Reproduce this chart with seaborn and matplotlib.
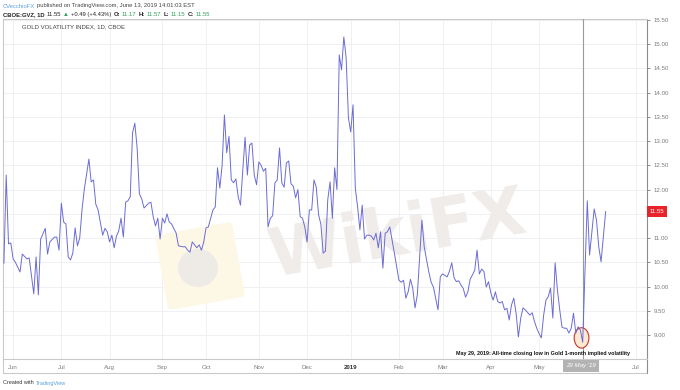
import numpy as np
import pandas as pd
import seaborn as sns
import matplotlib.pyplot as plt
from matplotlib.patches import Ellipse, FancyBboxPatch
from matplotlib.transforms import blended_transform_factory, Affine2D

# trading-session index (0 = late May 2018) and GVZ daily close
session = [0, 1, 2, 3, 4, 5, 7, 8, 10, 11, 13, 14, 15, 16, 18, 19, 20, 22, 23, 24,
           25, 26, 27, 28, 29, 30, 31, 32, 33, 34, 35, 37, 38, 39, 40, 41, 43, 44, 45, 46,
           47, 48, 49, 50, 51, 52, 53, 54, 55, 56, 57, 58, 59, 60, 61, 63, 64, 65, 66, 67,
           68, 69, 70, 71, 72, 73, 75, 76, 78, 79, 80, 81, 82, 84, 85, 86, 87, 88, 89, 91,
           92, 93, 94, 95, 96, 97, 98, 99, 100, 101, 102, 103, 104, 105, 106, 107, 108, 109, 110, 111,
           112, 113, 114, 115, 116, 117, 118, 119, 120, 121, 122, 123, 124, 125, 126, 127, 128, 129, 130, 131,
           132, 133, 134, 135, 136, 137, 138, 139, 140, 141, 142, 143, 144, 145, 146, 147, 148, 149, 150, 151,
           152, 153, 154, 155, 156, 157, 158, 159, 160, 161, 162, 163, 164, 165, 166, 167, 168, 169, 170, 172,
           173, 174, 175, 176, 177, 178, 179, 180, 181, 182, 183, 185, 186, 187, 188, 189, 190, 191, 193, 194,
           195, 196, 197, 198, 199, 200, 201, 202, 203, 204, 205, 206, 207, 208, 209, 210, 211, 212, 213, 214,
           215, 216, 217, 218, 219, 220, 221, 222, 223, 224, 225, 226, 227, 229, 230, 231, 232, 233, 234, 235,
           236, 237, 238, 239, 240, 241, 242, 243, 244, 245, 246, 247, 248, 249, 250, 251, 252, 253, 254, 255,
           257, 258, 259, 260, 262]
gvz = [10.48, 12.3, 10.88, 10.9, 10.57, 10.5, 10.3, 10.67, 10.57, 10.59, 9.85, 10.61, 9.83, 10.98, 11.2, 10.67, 10.92, 11.02, 11.02, 10.75,
       11.72, 11.33, 11.29, 10.61, 10.55, 10.69, 11.21, 10.84, 11.0, 11.58, 12.01, 12.63, 12.16, 12.2, 11.7, 11.58, 11.06, 11.2, 11.13, 10.92,
       11.06, 10.8, 11.04, 11.15, 11.41, 11.02, 11.74, 11.77, 11.85, 13.17, 13.37, 12.86, 11.91, 11.81, 11.62, 11.72, 11.74, 11.44, 11.25, 11.41,
       10.98, 11.41, 11.31, 11.5, 11.33, 11.29, 11.1, 10.84, 10.82, 10.82, 10.75, 10.71, 10.92, 10.8, 10.86, 10.75, 10.92, 11.21, 11.23, 11.58,
       11.64, 12.45, 12.03, 12.5, 13.54, 12.76, 13.1, 12.2, 12.14, 12.22, 11.85, 11.68, 12.4, 13.08, 12.3, 12.92, 12.96, 12.3, 12.1, 12.57,
       12.5, 12.38, 12.44, 11.23, 11.41, 11.46, 12.14, 12.2, 12.86, 12.14, 12.05, 12.55, 12.59, 12.12, 12.07, 11.83, 12.0, 11.44, 11.41, 11.23,
       10.92, 11.58, 11.58, 12.2, 12.05, 11.48, 11.29, 10.69, 10.73, 11.79, 12.16, 11.41, 12.45, 12.0, 14.78, 14.47, 15.15, 14.72, 13.48, 13.19,
       13.75, 12.03, 11.64, 11.17, 11.68, 10.98, 11.06, 11.06, 11.04, 10.96, 11.1, 10.8, 11.13, 10.38, 11.1, 11.13, 11.23, 10.96, 10.69, 10.13,
       10.09, 10.13, 9.76, 9.89, 10.15, 9.97, 9.56, 9.83, 10.61, 11.37, 10.82, 10.3, 10.09, 9.99, 9.76, 9.52, 10.2, 10.26, 10.2, 10.32,
       10.49, 10.18, 10.1, 10.12, 10.03, 9.96, 9.78, 9.89, 10.15, 10.24, 10.34, 10.75, 10.26, 10.36, 10.31, 9.99, 10.1, 9.87, 9.72, 9.89,
       9.69, 9.66, 9.69, 9.52, 9.55, 9.31, 9.62, 9.76, 9.45, 8.96, 9.34, 9.56, 9.52, 9.41, 9.46, 9.28, 9.14, 9.03, 8.94, 9.41,
       9.72, 9.79, 9.97, 9.35, 10.49, 9.93, 9.52, 9.16, 9.14, 9.14, 9.04, 9.14, 9.45, 9.04, 9.17, 9.1, 8.85, 10.3, 11.77, 10.65,
       11.6, 11.37, 10.82, 10.51, 11.55]

month_ticks = [4, 25, 46, 69, 88, 111, 132, 151, 172, 191, 212, 233, 275]
month_labels = ['Jun', 'Jul', 'Aug', 'Sep', 'Oct', 'Nov', 'Dec', '2019', 'Feb', 'Mar', 'Apr', 'May', 'Jul']
price_ticks = [9.0, 9.5, 10.0, 10.5, 11.0, 11.5, 12.0, 12.5, 13.0, 13.5, 14.0, 14.5, 15.0, 15.5]

low_session = 252
low_label = "29 May '19"
last_close = 11.55

W, H = 680, 390
LINE = '#6b6bd6'
GRID = '#eef0f4'
BORDER = '#c9c9c9'
TXT = '#7b7b7b'


def fx(px):
    return px / W


def fy(py):
    return 1 - py / H


def text_run(fig, x_px, y_px, parts, size):
    # draw several coloured pieces of text one after another on one line
    renderer = fig.canvas.get_renderer()
    x = x_px
    for s, color, weight in parts:
        t = fig.text(fx(x), fy(y_px), s, color=color, fontsize=size,
                     fontweight=weight, va='center', ha='left')
        x += t.get_window_extent(renderer).width + 2


sns.set_style('white')
plt.rcParams['font.family'] = ['Liberation Sans', 'DejaVu Sans']

fig = plt.figure(figsize=(6.8, 3.9), dpi=100)
ax = fig.add_axes([fx(3), fy(359), fx(647) - fx(3), fy(19) - fy(359)])

df = pd.DataFrame({'session': session, 'gvz': gvz})
sns.lineplot(data=df, x='session', y='gvz', ax=ax, color=LINE, lw=0.7, zorder=4)

ax.set_xlim(-0.4, 280)
ax.set_ylim(8.505, 15.52)
ax.set_xlabel('')
ax.set_ylabel('')

# grid; the 11.50 label sits under the last-price tag, so it is left blank
ax.set_xticks(month_ticks)
ax.set_xticklabels(month_labels)
ax.set_yticks(price_ticks)
ax.set_yticklabels(['' if abs(v - last_close) < 0.2 else f'{v:.2f}' for v in price_ticks])
ax.grid(True, color=GRID, lw=0.7, zorder=0)
ax.set_axisbelow(True)

ax.yaxis.tick_right()
ax.tick_params(axis='y', length=2.5, width=0.6, color=TXT, labelsize=4.4,
               labelcolor=TXT, pad=2, direction='out')
ax.tick_params(axis='x', length=0, labelsize=4.4, labelcolor=TXT, pad=4.2)
for lab in ax.get_xticklabels():
    if lab.get_text() == '2019':
        lab.set_color('#333333')
        lab.set_fontweight('bold')

for side in ['top', 'left', 'bottom']:
    ax.spines[side].set_color(BORDER)
    ax.spines[side].set_linewidth(0.8)
ax.spines['right'].set_color('#8c8c8c')
ax.spines['right'].set_linewidth(0.8)

# bottom band of the time axis
band = -(373 - 359) / 340
ax.plot([0, 1], [band, band], transform=ax.transAxes, clip_on=False,
        color=BORDER, lw=0.8)
ax.plot([0, 0], [band, 0], transform=ax.transAxes, clip_on=False,
        color=BORDER, lw=0.8)
ax.plot([1, 1], [band, 0], transform=ax.transAxes, clip_on=False,
        color='#8c8c8c', lw=0.8)

# watermark, kept under the line (pixel coords, y measured from the top)
px_tf = Affine2D().scale(1, -1).translate(0, H)
ax.add_patch(FancyBboxPatch((165, 232), 70, 68, boxstyle='round,pad=4',
                            facecolor='#fdf7e6', edgecolor='none', zorder=1,
                            transform=Affine2D().rotate_deg_around(200, 266, -10) + px_tf))
ax.add_patch(Ellipse((198, 268), 40, 38, facecolor='#eeebe7', edgecolor='none',
                     zorder=1.1, transform=px_tf))
ax.text(fx(397), fy(236), 'WikiFX', transform=fig.transFigure, fontsize=48,
        fontweight='bold', color='#efecea', rotation=10, ha='center', va='center',
        zorder=1.2, family='DejaVu Sans')

# crosshair and all-time-low marker
ax.axvline(low_session, color='#9a9a9a', lw=0.8, zorder=3)
ax.add_patch(Ellipse((251.5, 8.94), width=6.4, height=0.42, facecolor='#fde9d2',
                     edgecolor='#c0392b', lw=0.8, zorder=3))

xb = blended_transform_factory(ax.transData, ax.transAxes)
ax.text(low_session - 0.7, -(366 - 359) / 340, low_label, transform=xb, ha='center',
        va='center', fontsize=4.4, color='white', style='italic',
        bbox=dict(boxstyle='square,pad=0.5', facecolor='#b3b3b3', edgecolor='none'))

yb = blended_transform_factory(ax.transAxes, ax.transData)
ax.text(1.004, last_close, f'{last_close:.2f}', transform=yb, ha='left', va='center',
        fontsize=4.4, color='white',
        bbox=dict(boxstyle='square,pad=0.45', facecolor='#e8242a', edgecolor='none'))

ax.text(8, 15.35, 'GOLD VOLATILITY INDEX, 1D, CBOE', fontsize=4.3, color='#444444',
        va='center')

fig.text(fx(630), fy(353), 'May 29, 2019: All-time closing low in Gold 1-month implied volatility',
         ha='right', va='center', fontsize=3.9, fontweight='bold', color='#111111')

# header and footer
text_run(fig, 3, 6, [('CVecchioFX', '#5aa0dc', 'normal'),
                     ('published on TradingView.com, June 13, 2019 14:01:03 EST', '#444444', 'normal')], 4.2)
text_run(fig, 3, 14.5, [('CBOE:GVZ, 1D', '#222222', 'bold'),
                        ('11.55', '#222222', 'normal'),
                        ('\u25b2', '#2e9e5b', 'normal'),
                        ('+0.49 (+4.43%)', '#222222', 'normal'),
                        ('O:', '#222222', 'bold'), ('11.17', '#2e9e5b', 'normal'),
                        ('H:', '#222222', 'bold'), ('11.57', '#2e9e5b', 'normal'),
                        ('L:', '#222222', 'bold'), ('11.15', '#2e9e5b', 'normal'),
                        ('C:', '#222222', 'bold'), ('11.55', '#2e9e5b', 'normal')], 4.2)
text_run(fig, 3, 383, [('Created with', '#333333', 'normal'),
                       ('TradingView', '#5aa0dc', 'normal')], 4.0)

fig.savefig('out.png', dpi=100)
